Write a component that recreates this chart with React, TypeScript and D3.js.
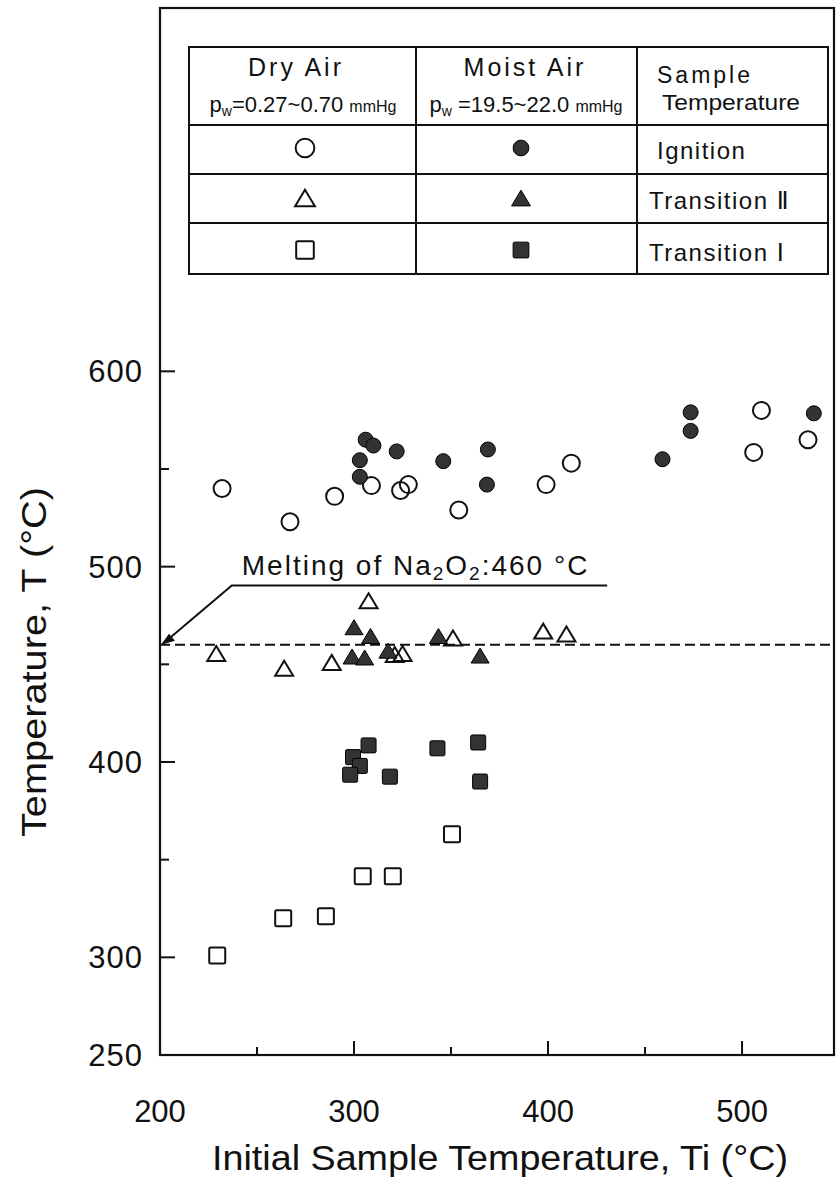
import React from "react";
import * as d3 from "d3";

// ---- data (Ti, T) in °C ----
const dryIgnition: [number, number][] = [
  [232, 540], [267, 523], [290, 536], [309, 541.5], [324, 539], [328, 542],
  [354, 529], [399, 542], [412, 553], [506, 558.5], [510, 580], [534, 565],
];
const moistIgnition: [number, number][] = [
  [306, 565], [310, 562], [322, 559], [303, 554.5], [303, 546], [346, 554],
  [369, 560], [368.5, 542], [459, 555], [473.5, 569.5], [473.5, 579], [537, 578.5],
];
const dryTransII: [number, number][] = [
  [229, 455.5], [264, 448], [288.5, 451], [307.5, 482.5], [321, 455],
  [325, 455.5], [351, 463.5], [397.5, 467], [409.5, 465.5],
];
const moistTransII: [number, number][] = [
  [300, 469], [308.5, 464.5], [299, 454], [305.5, 453.5], [317.5, 457],
  [343.5, 464.5], [365, 454.5],
];
const dryTransI: [number, number][] = [
  [229.5, 301], [263.5, 320], [285.5, 321], [304.5, 341.5], [320, 341.5], [350.5, 363],
];
const moistTransI: [number, number][] = [
  [307.5, 408.5], [299.5, 402.5], [303, 398], [298, 393.5], [318.5, 392.5],
  [343, 407], [364, 410], [365, 390],
];

const xMajor = [200, 300, 400, 500];
const xMinor = [250, 350, 450];
const yMajor = [250, 300, 400, 500, 600];
const yMinor = [350, 450, 550];
const meltingT = 460;

const W = 839;
const H = 1181;
const left = 160, right = 834, top = 8, bottom = 1055;

const x = d3.scaleLinear().domain([200, 547.4]).range([left, right]);
const y = d3.scaleLinear().domain([250, 786]).range([bottom, top]);

const FONT = "'Liberation Sans', 'DejaVu Sans', sans-serif";
const INK = "#111";
const FILL = "#333";

type MarkerKind = "circle" | "triangle" | "square";

function Marker({ kind, filled, cx, cy, s = 1 }: { kind: MarkerKind; filled: boolean; cx: number; cy: number; s?: number }) {
  const sw = 2;
  if (kind === "circle") {
    const r = (filled ? 7.5 : 8.5) * s;
    return <circle cx={cx} cy={cy} r={r} fill={filled ? FILL : "none"} stroke={filled ? "#000" : INK} strokeWidth={filled ? 1 : sw} />;
  }
  if (kind === "triangle") {
    const hw = 9 * s, hh = 7.5 * s;
    const d = `M${cx},${cy - hh}L${cx + hw},${cy + hh}L${cx - hw},${cy + hh}Z`;
    return <path d={d} fill={filled ? FILL : "none"} stroke={filled ? "#000" : INK} strokeWidth={filled ? 1 : sw} strokeLinejoin="miter" />;
  }
  const h = (filled ? 7.5 : 8) * s;
  return <rect x={cx - h} y={cy - h} width={2 * h} height={2 * h} fill={filled ? FILL : "none"} stroke={filled ? "#000" : INK} strokeWidth={filled ? 1 : sw} rx={1.5} />;
}

function Series({ data, kind, filled }: { data: [number, number][]; kind: MarkerKind; filled: boolean }) {
  return (
    <g>
      {data.map(([ti, t], i) => (
        <Marker key={i} kind={kind} filled={filled} cx={x(ti)} cy={y(t)} />
      ))}
    </g>
  );
}

export default function App() {
  // legend table geometry
  const tL = 189, tR = 828;
  const rows = [47, 125, 174, 223, 274];
  const cols = [tL, 416, 637, tR];
  const c1 = 305, c2 = 521;
  const rowMid = [148, 198, 250];
  const legendRows: { kind: MarkerKind; label: string }[] = [
    { kind: "circle", label: "Ignition" },
    { kind: "triangle", label: "Transition Ⅱ" },
    { kind: "square", label: "Transition Ⅰ" },
  ];

  // annotation geometry in data units
  const annTi0 = 237, annTi1 = 430.5, annT = 490.3;

  return (
    <svg width={W} height={H} style={{ position: "absolute", left: 0, top: 0, background: "#fff" }} fontFamily={FONT}>
      <rect x={0} y={0} width={W} height={H} fill="#fff" />

      {/* plot frame */}
      <rect x={left} y={top} width={right - left} height={bottom - top} fill="none" stroke={INK} strokeWidth={2.2} />

      {/* y ticks */}
      {yMajor.filter((v) => v > 250).map((v) => (
        <line key={"ym" + v} x1={left} x2={left + 15} y1={y(v)} y2={y(v)} stroke={INK} strokeWidth={2} />
      ))}
      {yMinor.map((v) => (
        <line key={"yn" + v} x1={left} x2={left + 9} y1={y(v)} y2={y(v)} stroke={INK} strokeWidth={2} />
      ))}
      {yMajor.map((v) => (
        <text key={"yl" + v} x={143} y={y(v) + 11} fontSize={31} textAnchor="end" fill={INK} letterSpacing={1}>
          {v}
        </text>
      ))}

      {/* x ticks */}
      {xMajor.filter((v) => v > 200).map((v) => (
        <line key={"xm" + v} x1={x(v)} x2={x(v)} y1={bottom} y2={bottom - 14} stroke={INK} strokeWidth={2} />
      ))}
      {xMinor.map((v) => (
        <line key={"xn" + v} x1={x(v)} x2={x(v)} y1={bottom} y2={bottom - 8} stroke={INK} strokeWidth={2} />
      ))}
      {xMajor.map((v) => (
        <text key={"xl" + v} x={x(v)} y={1122} fontSize={31} textAnchor="middle" fill={INK}>
          {v}
        </text>
      ))}

      {/* axis titles */}
      <text x={500} y={1170} fontSize={35} textAnchor="middle" fill={INK} textLength={576} lengthAdjust="spacingAndGlyphs">
        Initial Sample Temperature, Ti (°C)
      </text>
      <text transform={`translate(46,662) rotate(-90)`} fontSize={35} textAnchor="middle" fill={INK} textLength={350} lengthAdjust="spacingAndGlyphs">
        Temperature, T (°C)
      </text>

      {/* melting line */}
      <line x1={left} x2={right} y1={y(meltingT)} y2={y(meltingT)} stroke={INK} strokeWidth={2} strokeDasharray="10 5" />
      <path
        d={`M${x(annTi1)},${y(annT)}L${x(annTi0)},${y(annT)}L${left + 3},${y(meltingT) - 1}`}
        fill="none" stroke={INK} strokeWidth={2}
      />
      <path
        d={`M${left + 1},${y(meltingT)}l14,-4l-6,-7z`}
        fill={INK}
      />
      <text x={x(annTi0) + 10} y={y(annT) - 11} fontSize={28} fill={INK} letterSpacing={2}>
        Melting of Na<tspan fontSize={19} dy={5}>2</tspan><tspan dy={-5}>O</tspan><tspan fontSize={19} dy={5}>2</tspan><tspan dy={-5}>:460 °C</tspan>
      </text>

      {/* data */}
      <Series data={dryTransI} kind="square" filled={false} />
      <Series data={moistTransI} kind="square" filled={true} />
      <Series data={dryTransII} kind="triangle" filled={false} />
      <Series data={moistTransII} kind="triangle" filled={true} />
      <Series data={dryIgnition} kind="circle" filled={false} />
      <Series data={moistIgnition} kind="circle" filled={true} />

      {/* legend table */}
      <g>
        <rect x={tL} y={rows[0]} width={tR - tL} height={rows[4] - rows[0]} fill="#fff" stroke={INK} strokeWidth={2} />
        {rows.slice(1, 4).map((r) => (
          <line key={"r" + r} x1={tL} x2={tR} y1={r} y2={r} stroke={INK} strokeWidth={2} />
        ))}
        {cols.slice(1, 3).map((c) => (
          <line key={"c" + c} x1={c} x2={c} y1={rows[0]} y2={rows[4]} stroke={INK} strokeWidth={2} />
        ))}
        <text x={296} y={76} fontSize={25} textAnchor="middle" fill={INK} letterSpacing={3}>Dry Air</text>
        <text x={525} y={76} fontSize={25} textAnchor="middle" fill={INK} letterSpacing={3}>Moist Air</text>
        <text x={303} y={112} fontSize={22} textAnchor="middle" fill={INK}>
          p<tspan fontSize={14} dy={4}>w</tspan><tspan dy={-4}>=0.27~0.70 </tspan><tspan fontSize={16}>mmHg</tspan>
        </text>
        <text x={526} y={112} fontSize={22} textAnchor="middle" fill={INK}>
          p<tspan fontSize={14} dy={4}>w</tspan><tspan dy={-4}> =19.5~22.0 </tspan><tspan fontSize={16}>mmHg</tspan>
        </text>
        <text x={657} y={83} fontSize={23} fill={INK} letterSpacing={3}>Sample</text>
        <text x={662} y={110} fontSize={22} fill={INK} textLength={138} lengthAdjust="spacingAndGlyphs">Temperature</text>
        {legendRows.map((row, i) => (
          <g key={row.label}>
            <Marker kind={row.kind} filled={false} cx={c1} cy={rowMid[i]} s={1.1} />
            <Marker kind={row.kind} filled={true} cx={c2} cy={rowMid[i]} s={1.05} />
            <text x={i === 0 ? 657 : 649} y={rowMid[i] + 11} fontSize={24} fill={INK} letterSpacing={1.5}>
              {row.label}
            </text>
          </g>
        ))}
      </g>
    </svg>
  );
}
